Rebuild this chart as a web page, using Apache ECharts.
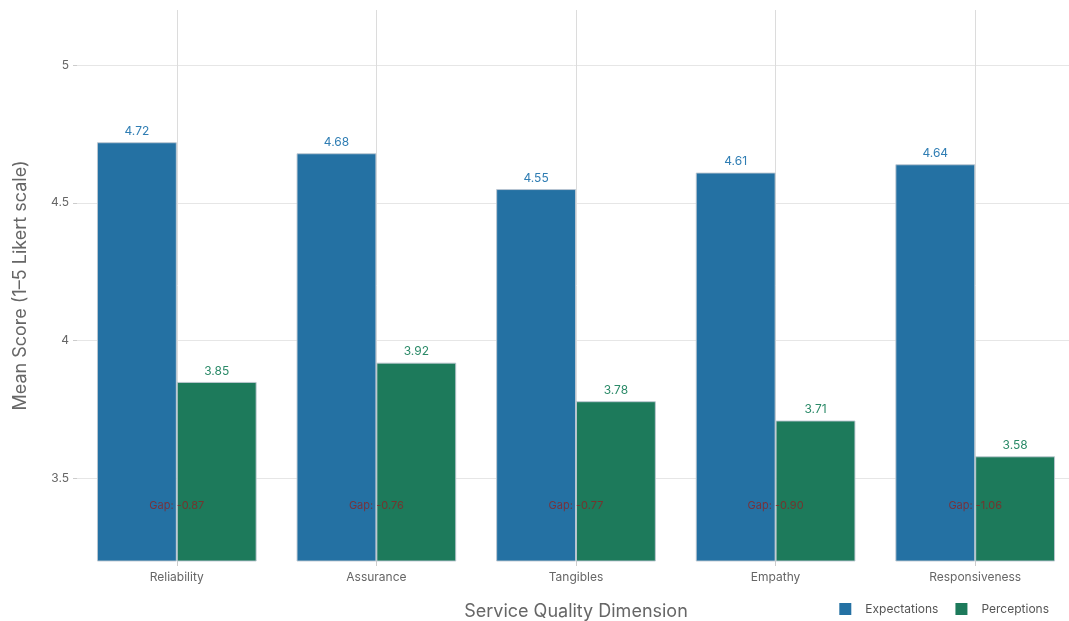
<!DOCTYPE html>
<html>
<head>
<meta charset="utf-8">
<script src="https://cdn.jsdelivr.net/npm/echarts@6/dist/echarts.min.js"></script>
<style>
  html, body { margin: 0; padding: 0; background: #fff; }
  #main { width: 1069px; height: 621px; }
</style>
</head>
<body>
<div id="main"></div>
<script>
// service quality dimensions
var dimensions = ['Reliability', 'Assurance', 'Tangibles', 'Empathy', 'Responsiveness'];
var expectations = [4.72, 4.68, 4.55, 4.61, 4.64];
var perceptions = [3.85, 3.92, 3.78, 3.71, 3.58];
var yTicks = [3.5, 4, 4.5, 5];
var gapLabelY = 3.40;

var blue = '#2471a3';
var green = '#1d7a5b';
var font = 'Inter, "Liberation Sans", Arial, sans-serif';

// gap = perception - expectation
var gapData = dimensions.map(function (d, i) {
    var g = perceptions[i] - expectations[i];
    return { value: [d, gapLabelY], gap: g };
});

var myChart = echarts.init(document.getElementById('main'));

var option = {
    animation: false,
    textStyle: { fontFamily: font },
    grid: { left: 77, right: -6, top: 10, bottom: 60, outerBoundsMode: 'none', containLabel: false },
    legend: {
        data: ['Expectations', 'Perceptions'],
        right: 15,
        bottom: 1,
        itemWidth: 12,
        itemHeight: 12,
        itemGap: 17,
        icon: 'rect',
        itemStyle: { borderWidth: 0 },
        textStyle: { color: '#555', fontSize: 12, fontFamily: font, padding: [0, 0, 0, 9] }
    },
    xAxis: {
        type: 'category',
        data: dimensions,
        name: 'Service Quality Dimension',
        nameLocation: 'middle',
        nameGap: 42,
        nameTextStyle: { color: '#666', fontSize: 18, fontFamily: font },
        axisLine: { show: false },
        axisTick: { show: true, alignWithLabel: true, length: 5, lineStyle: { color: '#ccc' } },
        axisLabel: { color: '#666', fontSize: 12, margin: 10 },
        splitLine: { show: false }
    },
    yAxis: {
        type: 'value',
        min: 3.2,
        max: 5.2,
        name: 'Mean Score (1–5 Likert scale)',
        nameLocation: 'middle',
        nameGap: 47,
        nameTextStyle: { color: '#666', fontSize: 18, fontFamily: font },
        axisLine: { show: false },
        axisTick: { show: true, length: 4, customValues: yTicks, lineStyle: { color: '#ccc' } },
        axisLabel: { color: '#666', fontSize: 12, margin: 8, customValues: yTicks },
        splitLine: { show: false }
    },
    series: [
        {
            // gridlines drawn behind the bars
            name: 'grid',
            type: 'line',
            data: [],
            z: 0,
            silent: true,
            markLine: {
                silent: true,
                z: 0,
                zlevel: 0,
                symbol: 'none',
                label: { show: false },
                lineStyle: { type: 'solid', width: 1 },
                data: yTicks.map(function (t) {
                    return { yAxis: t, lineStyle: { color: '#e6e6e6' } };
                }).concat(dimensions.map(function (d) {
                    return { xAxis: d, lineStyle: { color: '#dcdcdc' } };
                }))
            }
        },
        {
            name: 'Expectations',
            type: 'bar',
            data: expectations,
            z: 2,
            barGap: '0%',
            barCategoryGap: '20%',
            itemStyle: { color: blue, borderColor: 'rgba(190,200,210,0.9)', borderWidth: 1 },
            label: {
                show: true, position: 'top', distance: 5,
                color: '#2f7db3', fontSize: 12,
                formatter: function (p) { return p.value.toFixed(2); }
            }
        },
        {
            name: 'Perceptions',
            type: 'bar',
            data: perceptions,
            z: 2,
            itemStyle: { color: green, borderColor: 'rgba(190,200,210,0.9)', borderWidth: 1 },
            label: {
                show: true, position: 'top', distance: 5,
                color: '#2b8a68', fontSize: 12,
                formatter: function (p) { return p.value.toFixed(2); }
            }
        },
        {
            name: 'Gap',
            type: 'scatter',
            data: gapData,
            symbolSize: 0,
            z: 10,
            label: {
                show: true,
                position: 'inside',
                color: '#8b2323',
                fontSize: 11,
                formatter: function (p) { return 'Gap: ' + p.data.gap.toFixed(2); }
            },
            tooltip: { show: false }
        }
    ]
};

myChart.setOption(option);
window.onresize = myChart.resize;
</script>
</body>
</html>
